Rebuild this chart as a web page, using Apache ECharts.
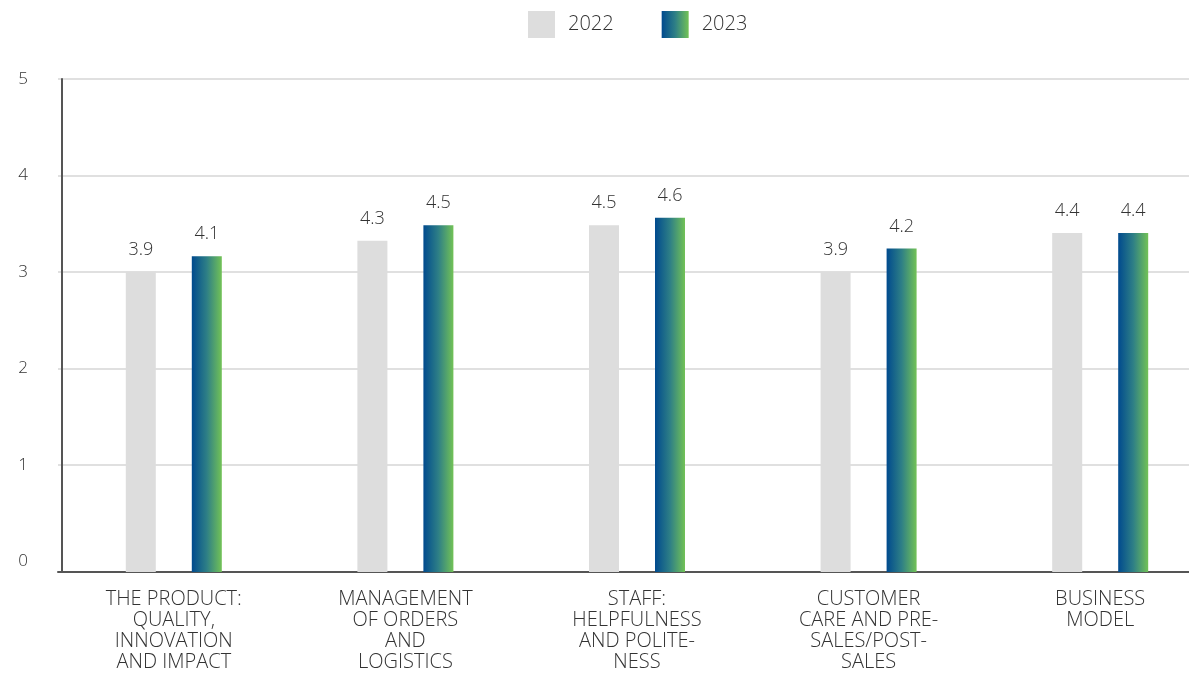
<!DOCTYPE html>
<html>
<head>
<meta charset="utf-8">
<script src="https://cdn.jsdelivr.net/npm/echarts@6/dist/echarts.min.js"></script>
<style>
html,body{margin:0;padding:0;background:#fff;overflow:hidden;width:1189px;height:673px;}
#chart{width:1216px;height:673px;}
</style>
</head>
<body>
<div id="chart"></div>
<script>
const categories = [
  "THE PRODUCT:\nQUALITY,\nINNOVATION\nAND IMPACT",
  "MANAGEMENT\nOF ORDERS\nAND\nLOGISTICS",
  "STAFF:\nHELPFULNESS\nAND POLITE-\nNESS",
  "CUSTOMER\nCARE AND PRE-\nSALES/POST-\nSALES",
  "BUSINESS\nMODEL"
];
const values2022 = [3.9, 4.3, 4.5, 3.9, 4.4];
const values2023 = [4.1, 4.5, 4.6, 4.2, 4.4];
const yTickLabels = [0, 1, 2, 3, 4, 5];
const seriesNames = ["2022", "2023"];

const FONT = "Open Sans";
const WEIGHT = 300;
const TEXT = "#333333";
const gradient = new echarts.graphic.LinearGradient(0, 0, 1, 0, [
  { offset: 0, color: "#004a8e" },
  { offset: 0.5, color: "#2e7f86" },
  { offset: 1, color: "#72c256" }
]);

const chart = echarts.init(document.getElementById("chart"), null, { renderer: "canvas" });
chart.setOption({
  animation: false,
  backgroundColor: "#ffffff",
  textStyle: { fontFamily: FONT, fontWeight: WEIGHT },
  legend: {
    left: 528, top: 11, padding: 0,
    itemWidth: 27, itemHeight: 27, itemGap: 48,
    icon: "rect",
    data: seriesNames,
    textStyle: { fontFamily: FONT, fontWeight: WEIGHT, fontSize: 20, color: TEXT, padding: [4, 0, 0, 8] }
  },
  grid: { left: 58, right: 0, top: 79, bottom: 100, containLabel: false },
  xAxis: {
    type: "category",
    data: categories,
    axisLine: { show: true, lineStyle: { color: "#555", width: 2 } },
    axisTick: { show: false },
    axisLabel: {
      interval: 0, margin: 17, fontFamily: FONT, fontWeight: WEIGHT, fontSize: 20, lineHeight: 21,
      color: TEXT, align: "center"
    }
  },
  yAxis: [
    {
      type: "value", min: 0, max: 6.4, offset: -4,
      axisLine: { show: false }, axisTick: { show: false },
      axisLabel: { show: false }, splitLine: { show: false }
    },
    {
      type: "value", min: -0.112, max: 5, offset: -4, position: "left",
      axisLine: { show: true, lineStyle: { color: "#555", width: 2 } },
      axisTick: { show: false, customValues: [1, 2, 3, 4, 5] },
      axisLabel: {
        customValues: yTickLabels, margin: 34, fontFamily: FONT, fontWeight: WEIGHT, fontSize: 17,
        color: TEXT, align: "right"
      },
      splitLine: { show: true, lineStyle: { color: "#e0e0e0", width: 2 } }
    }
  ],
  series: [
    {
      name: seriesNames[0], type: "bar", yAxisIndex: 0,
      data: values2022, barWidth: 30, barGap: "120%",
      itemStyle: { color: "#dddddd" },
      label: { show: true, position: "top", distance: 13, fontFamily: FONT, fontWeight: WEIGHT, fontSize: 18,
        color: TEXT, formatter: p => p.value.toFixed(1) }
    },
    {
      name: seriesNames[1], type: "bar", yAxisIndex: 0,
      data: values2023, barWidth: 30, barGap: "120%",
      itemStyle: { color: gradient },
      label: { show: true, position: "top", distance: 13, fontFamily: FONT, fontWeight: WEIGHT, fontSize: 18,
        color: TEXT, formatter: p => p.value.toFixed(1) }
    }
  ]
});
</script>
</body>
</html>
